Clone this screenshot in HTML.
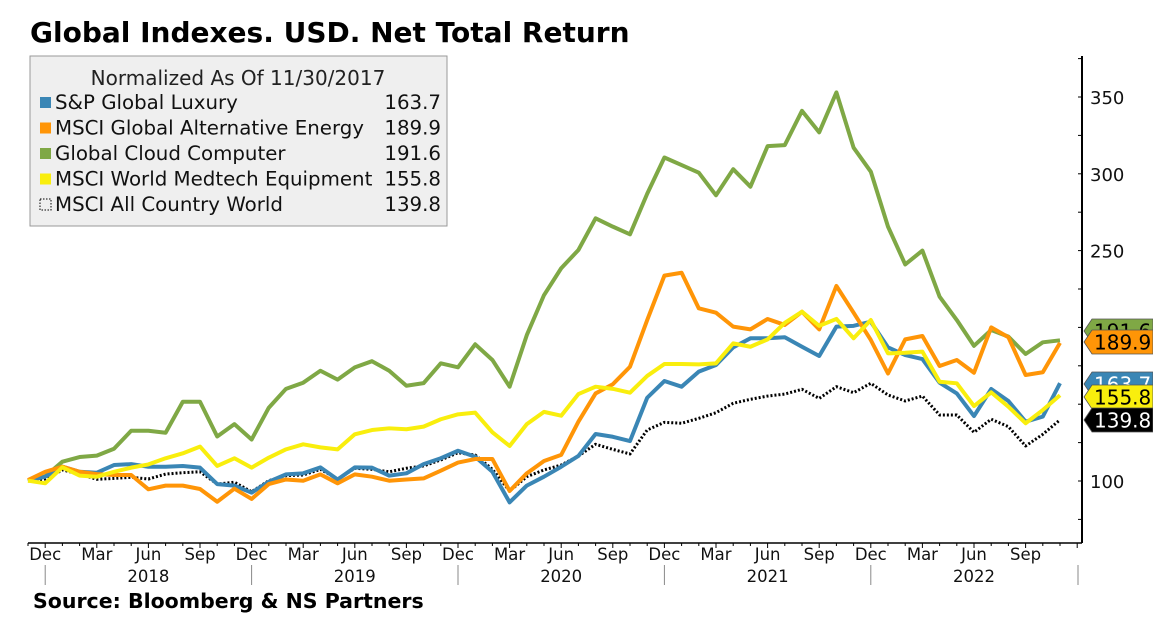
<!DOCTYPE html>
<html><head><meta charset="utf-8"><style>
body{margin:0;background:#fff;width:1153px;height:630px;overflow:hidden;font-family:"DejaVu Sans","Liberation Sans",sans-serif}
</style></head><body>
<svg id="chart" width="1153" height="630" viewBox="0 0 1153 630" xmlns="http://www.w3.org/2000/svg">
<text x="30" y="42" font-size="28" font-weight="bold" font-family="DejaVu Sans, sans-serif">Global Indexes. USD. Net Total Return</text>
<g id="plot"></g>
<text x="33" y="608" font-size="20.5" font-weight="bold" font-family="DejaVu Sans, sans-serif">Source: Bloomberg &amp; NS Partners</text>
</svg>
<script>
const NS="http://www.w3.org/2000/svg";
const yTicks=[100,150,200,250,300,350];
const monthLabels=["Dec","Mar","Jun","Sep"];
const years=["2018","2019","2020","2021","2022"];
const seriesNames=["S&P Global Luxury","MSCI Global Alternative Energy","Global Cloud Computer","MSCI World Medtech Equipment","MSCI All Country World"];
const lastValues=["163.7","189.9","191.6","155.8","139.8"];
const luxury=[100.2,102.8,109.3,106,105.4,110.4,111,109.3,109.3,109.8,108.7,98,97,92.4,99.5,104.3,105,108.9,101,108.9,108.7,103.5,105,111,114.8,119.7,115.8,106,86.1,97,102.8,109.3,116.3,130.6,128.8,126,154.2,165.1,161.4,171.2,175.5,187,192.9,192.9,193.6,187.4,181.4,200.5,201,203.7,187,182,179.4,164,157,142.3,159.9,152.1,138.6,141.9,163.7];
const altEnergy=[100.6,106,109.3,106,104.5,103.9,103.9,94.6,97,97,94.8,86.5,95,88.3,98,101,100.2,104.3,98.5,104.3,102.8,100.2,101,101.7,106.7,112,114.3,114.3,93.5,105,113,117,138.6,157,163,174.4,204.8,233.7,235.6,212.4,209.6,200.5,198.7,205.5,201.6,210.2,198.7,227,209.6,191.8,170,192.2,194.4,174.9,178.8,170.5,200,193.6,169,170.8,189.9];
const cloud=[100,103,112.6,115.6,116.5,121,132.7,132.7,131.4,151.6,151.6,129,137,127,147.7,160,164,171.8,166,174,178,171.8,162,163.7,176.6,174,189,178.8,161.4,195,221,238.5,250.4,271,265.6,260.6,287,310.6,305.7,300.7,286,303,291.6,318,318.7,341,327,353,317,301.4,265.6,241,250,220,204.8,188,198.3,194,182.7,190.3,191.6];
const medtech=[100.2,98.5,108.9,103.5,102.8,106,108.7,110.8,114.8,118,122.4,109.8,114.8,108.7,115.2,120.6,123.9,121.9,120.6,130.4,133.2,134.3,133.7,135.4,140.2,143.4,144.5,131.7,122.8,137,145,142.5,156.6,161.4,160,157.5,168.4,176.2,176.2,175.9,176.6,189.6,187.4,192.2,203,210.2,201,205.5,192.9,204.8,183.1,183.5,184.2,164.6,163.6,148.8,157.7,148.4,137.6,146.2,155.8];
const acwi=[100,101.3,107.2,104.5,101.1,101.7,102.4,101.3,104.5,105.4,106,98,99.2,93,100.2,103.5,103.9,107.6,101.3,108.3,107.6,106,108.3,109.8,113.7,118.4,116.9,107.6,93.5,102.8,107.2,110.4,116.3,123.9,120.6,117.6,133.2,138.2,137.6,140.8,144.5,150.6,153.2,155.3,156.6,159.7,153.8,161.4,157.5,163.6,156,152.1,155.3,143,143,131.7,140.2,135.4,122.8,130.4,139.8];

const X0=28,DX=17.2,AX=1082,XB=543;
const x=i=>X0+i*DX;
const y=v=>481-(v-100)*1.536;
const g=document.getElementById('plot');
function el(t,a,txt){const e=document.createElementNS(NS,t);for(const k in a)e.setAttribute(k,a[k]);if(txt!=null)e.textContent=txt;g.appendChild(e);return e;}

// legend
const lg=el('rect',{x:30,y:56,width:417,height:170,fill:'#efefef',stroke:'#999','stroke-width':1});


const lt=el('text',{x:238,y:85,'font-size':20,'text-anchor':'middle',fill:'#222'},'Normalized As Of 11/30/2017');


const colors=['#3a86b5','#ff9507','#7fa845','#f9ee0d','#000'];
for(let k=0;k<5;k++){
  const yy=109+k*25.5;
  const sw=el('rect',{x:40,y:yy-12,width:11,height:11,fill:colors[k]});
  if(k===4){sw.setAttribute('fill','none');sw.setAttribute('stroke','#000');sw.setAttribute('stroke-dasharray','1.5,1.5');}
  
  
  const t=el('text',{x:55,y:yy,'font-size':19.8,fill:'#111'},seriesNames[k]);
  
  
  const v=el('text',{x:441,y:yy,'font-size':19.8,'text-anchor':'end',fill:'#111'},lastValues[k]);
  
  
}

// y axis
const ya=el('line',{x1:AX,y1:56,x2:AX,y2:543,stroke:'#000','stroke-width':2});


for(let v=75;v<=375;v+=25){
  const tk=el('line',{x1:AX-4,y1:y(v),x2:AX,y2:y(v),stroke:'#000','stroke-width':1});
  
  
}
yTicks.forEach(v=>{
  const t=el('text',{x:1090,y:y(v)+7,'font-size':18,fill:'#111'},String(v));
  
  
});

// x axis
const xa=el('line',{x1:X0,y1:XB,x2:AX,y2:XB,stroke:'#000','stroke-width':1.5});


for(let i=0;i<=61;i++){
  const tk=el('line',{x1:x(i),y1:XB,x2:x(i),y2:XB+(i%3===1?5:3),stroke:'#000','stroke-width':1});
  
  
  if(i%3===1&&i<61){
    const t=el('text',{x:x(i),y:560,'font-size':16.5,'text-anchor':'middle',fill:'#111'},monthLabels[((i-1)/3)%4]);
    
    
  }
}
for(let k=0;k<=5;k++){
  const sx=k<5?x(1+12*k):AX-4;
  const s=el('line',{x1:sx,y1:565,x2:sx,y2:585,stroke:'#888','stroke-width':1});
  
  
}
years.forEach((yr,k)=>{
  const t=el('text',{x:x(7+12*k),y:582,'font-size':16.5,'text-anchor':'middle',fill:'#111'},yr);
  
  
});

// series
function line(data,color,name,dash){
  const p=el('polyline',{points:data.map((v,i)=>x(i)+','+y(v)).join(' '),fill:'none',stroke:color,'stroke-width':dash?3:4,'stroke-linejoin':'round'});
  if(dash)p.setAttribute('stroke-dasharray','2,2');
  
  
}
line(cloud,'#7fa845','cloud-line');
line(acwi,'#000','acwi-line',true);
line(luxury,'#3a86b5','luxury-line');
line(altEnergy,'#ff9507','alt-energy-line');
line(medtech,'#f9ee0d','medtech-line');

// end tags
function tag(cy,bg,fg,txt,name){
  const h=24,x0=AX+2;
  const p=el('polygon',{points:`${x0},${cy} ${x0+8},${cy-h/2} 1153,${cy-h/2} 1153,${cy+h/2} ${x0+8},${cy+h/2}`,fill:bg,stroke:'#555','stroke-width':0.8});
  
  
  const t=el('text',{x:x0+10,y:cy+7.5,'font-size':20,fill:fg},txt);
  
  
}
tag(331,'#7fa845','#000',lastValues[2],'cloud-tag');
tag(342,'#ff9507','#000',lastValues[1],'alt-energy-tag');
tag(384,'#3a86b5','#fff',lastValues[0],'luxury-tag');
tag(397,'#f9ee0d','#000',lastValues[3],'medtech-tag');
tag(420,'#000','#fff',lastValues[4],'acwi-tag');
</script>
</body></html>
